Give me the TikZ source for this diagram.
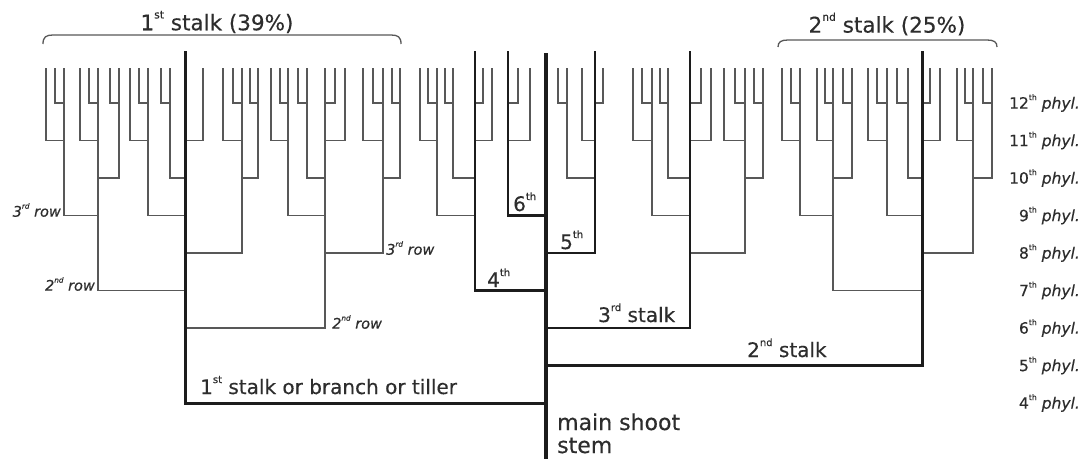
\documentclass[tikz,border=0pt]{standalone}
\usepackage{fontspec}
\setmainfont{DejaVu Sans}[FakeBold=0.35]
\definecolor{thinc}{RGB}{88,88,88}
\definecolor{thickc}{RGB}{28,28,28}
\definecolor{txtc}{RGB}{45,45,45}
\newcommand\sups[1]{\raisebox{0.55em}{\scalebox{0.5}{#1}}}
% thin stem: name, parent, x, emergence phyllochron
\newcommand\thinstem[4]{%
  \coordinate (#1-b) at (#3,{403-(#4-4)*37.5});
  \coordinate (#1-t) at (#3,68);
  \draw[thin stem] (#2-t |- #1-b) -- (#1-b) -- (#1-t);}
% stalk coordinates: name, x, emergence phyllochron
\newcommand\stalkdef[3]{%
  \coordinate (#1-b) at (#2,{403-(#3-4)*37.5});
  \coordinate (#1-t) at (#2,51);}
\begin{document}
\begin{tikzpicture}[x=1pt,y=-1pt,
  thin stem/.style={draw=thinc,line width=1.6pt},
  brace line/.style={draw=thinc,line width=1.3pt},
  title/.style={text=txtc,inner sep=0pt,font=\fontsize{21.5}{24}\selectfont},
  lbl/.style={text=txtc,inner sep=0pt,font=\fontsize{20}{22}\selectfont},
  bigl/.style={text=txtc,inner sep=0pt,font=\fontsize{22}{20}\selectfont},
  rowl/.style={text=txtc,inner sep=0pt,font=\fontsize{14.5}{16}\selectfont\itshape},
  phyl/.style={text=txtc,inner sep=0pt,anchor=east,font=\fontsize{15.5}{17}\selectfont}]
\useasboundingbox (0,0) rectangle (1091,458);
\fill[white] (0,0) rectangle (1091,458);

% main stem and stalks
\coordinate (M-t) at (546,53);
\coordinate (M-b) at (546,460);
\stalkdef{S1}{185}{4}
\stalkdef{S2}{922}{5}
\stalkdef{S3}{690}{6}
\stalkdef{S4}{475}{7}
\stalkdef{S5}{595}{8}
\stalkdef{S6}{508}{9}

% ---- 1st stalk
\thinstem{F}{S1}{325}{6}
\thinstem{A}{S1}{98}{7}
\thinstem{E}{S1}{242}{8}
\thinstem{C}{S1}{148}{9}
\thinstem{D}{S1}{170}{10}
\thinstem{S1k}{S1}{203}{11}
\thinstem{G}{F}{383}{8}
\thinstem{Fa}{F}{288}{9}
\thinstem{Fb}{F}{307}{10}
\thinstem{Fc}{F}{345}{11}
\thinstem{Fd}{F}{335}{12}
\thinstem{Ga}{G}{400}{10}
\thinstem{Gb}{G}{363}{11}
\thinstem{Gc}{G}{373}{12}
\thinstem{Gaa}{Ga}{392}{12}
\thinstem{Faa}{Fa}{271}{11}
\thinstem{Fab}{Fa}{280}{12}
\thinstem{Fba}{Fb}{298}{12}
\thinstem{B}{A}{64}{9}
\thinstem{Ab}{A}{119}{10}
\thinstem{Ac}{A}{80}{11}
\thinstem{Ad}{A}{89}{12}
\thinstem{Ba}{B}{46}{11}
\thinstem{Bb}{B}{55}{12}
\thinstem{Aba}{Ab}{110}{12}
\thinstem{Ea}{E}{258}{10}
\thinstem{Eb}{E}{223}{11}
\thinstem{Ec}{E}{233}{12}
\thinstem{Eaa}{Ea}{250}{12}
\thinstem{Ca}{C}{130}{11}
\thinstem{Cb}{C}{139}{12}
\thinstem{Da}{D}{161}{12}
% ---- 4th stalk
\thinstem{Pa}{S4}{437}{9}
\thinstem{Pb}{S4}{453}{10}
\thinstem{Pc}{S4}{492}{11}
\thinstem{Pd}{S4}{483}{12}
\thinstem{Paa}{Pa}{420}{11}
\thinstem{Pab}{Pa}{428}{12}
\thinstem{Pba}{Pb}{445}{12}
% ---- 6th stalk
\thinstem{Qa}{S6}{530}{11}
\thinstem{Qb}{S6}{518}{12}
% ---- 5th stalk
\thinstem{Ra}{S5}{567}{10}
\thinstem{Rb}{S5}{582}{11}
\thinstem{Rc}{S5}{603}{12}
\thinstem{Raa}{Ra}{558}{12}
% ---- 3rd stalk
\thinstem{Ta}{S3}{745}{8}
\thinstem{Tb}{S3}{652}{9}
\thinstem{Tc}{S3}{668}{10}
\thinstem{Td}{S3}{711}{11}
\thinstem{Te}{S3}{701}{12}
\thinstem{Taa}{Ta}{763}{10}
\thinstem{Tab}{Ta}{724}{11}
\thinstem{Tac}{Ta}{735}{12}
\thinstem{Taaa}{Taa}{754}{12}
\thinstem{Tba}{Tb}{633}{11}
\thinstem{Tbb}{Tb}{642}{12}
\thinstem{Tca}{Tc}{660}{12}
% ---- 2nd stalk
\thinstem{Ua}{S2}{833}{7}
\thinstem{Ub}{S2}{973}{8}
\thinstem{Uc}{S2}{887}{9}
\thinstem{Ud}{S2}{908}{10}
\thinstem{Ue}{S2}{940}{11}
\thinstem{Uf}{S2}{930}{12}
\thinstem{Uaa}{Ua}{800}{9}
\thinstem{Uab}{Ua}{852}{10}
\thinstem{Uac}{Ua}{817}{11}
\thinstem{Uad}{Ua}{825}{12}
\thinstem{Uaaa}{Uaa}{782}{11}
\thinstem{Uaab}{Uaa}{791}{12}
\thinstem{Uaba}{Uab}{843}{12}
\thinstem{Uba}{Ub}{992}{10}
\thinstem{Ubb}{Ub}{957}{11}
\thinstem{Ubc}{Ub}{965}{12}
\thinstem{Ubaa}{Uba}{983}{12}
\thinstem{Uca}{Uc}{868}{11}
\thinstem{Ucb}{Uc}{877}{12}
\thinstem{Uda}{Ud}{897}{12}

% thick stalks on top
\draw[draw=thickc,line width=2.4pt] (M-t |- S3-b) -- (S3-b) -- (S3-t);
\draw[draw=thickc,line width=2.4pt] (M-t |- S5-b) -- (S5-b) -- (S5-t);
\draw[draw=thickc,line width=2.6pt] (M-t |- S6-b) -- (S6-b) -- (S6-t);
\draw[draw=thickc,line width=2.6pt] (M-t |- S4-b) -- (S4-b) -- (S4-t);
\draw[draw=thickc,line width=3pt] (M-t |- S2-b) -- (S2-b) -- (S2-t);
\draw[draw=thickc,line width=3pt] (M-t |- S1-b) -- (S1-b) -- (S1-t);
\draw[draw=thickc,line width=3.8pt] (M-b) -- (M-t);

% brackets and titles
\draw[brace line] (43,44) .. controls (43,37) and (46,35) .. (53,35) -- (391,35) .. controls (398,35) and (401,37) .. (401,44);
\draw[brace line] (778,47) .. controls (778,42) and (781,40) .. (788,40) -- (987,40) .. controls (994,40) and (997,42) .. (997,47);
\node[title] (t1) at (217,22) {1\sups{st} stalk (39\%)};
\node[title] (t2) at (887,24) {2\sups{nd} stalk (25\%)};

% stalk labels
\node[lbl,anchor=base west] (l1) at (200,394) {1\sups{st} stalk or branch or tiller};
\node[lbl,anchor=base west] (l2) at (747,357) {2\sups{nd} stalk};
\node[lbl,anchor=base west] (l3) at (598,322) {3\sups{rd} stalk};
\node[lbl,anchor=base west] (l4) at (487,287) {4\sups{th}};
\node[lbl,anchor=base west] (l5) at (560,249) {5\sups{th}};
\node[lbl,anchor=base west] (l6) at (513,211) {6\sups{th}};
\node[bigl,anchor=base west] (ms1) at (557,430) {main shoot};
\node[bigl,anchor=base west] (ms2) at (557,453) {stem};

% row labels
\node[rowl,anchor=east] (r1) at (95,284) {2\sups{nd} row};
\node[rowl,anchor=east] (r2) at (61,210) {3\sups{rd} row};
\node[rowl,anchor=west] (r3) at (332,322) {2\sups{nd} row};
\node[rowl,anchor=west] (r4) at (386,248) {3\sups{rd} row};

% phyllochron labels
\foreach \n in {4,...,12}{
  \node[phyl] (p\n) at (1080,{403-(\n-4)*37.5}) {\n\sups{th} \textit{phyl.}};
}
\end{tikzpicture}
\end{document}
